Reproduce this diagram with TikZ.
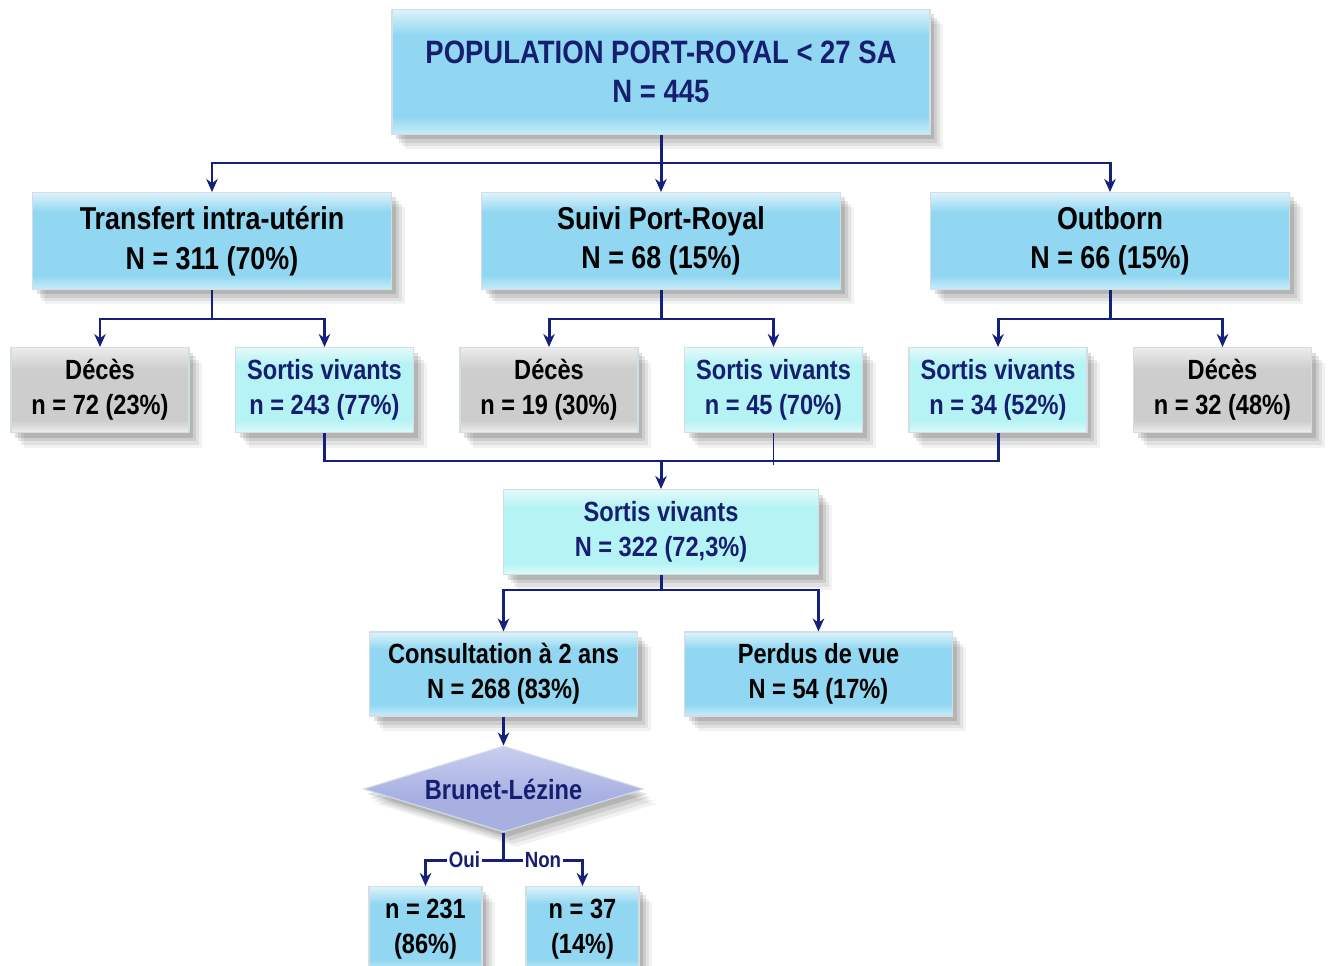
\documentclass[tikz,border=0pt]{standalone}
\usepackage{fontspec}
\setmainfont{Liberation Sans}[FakeStretch=0.85]
\usepackage{tikz}
\usetikzlibrary{arrows,arrows.meta,shapes,positioning}
\usetikzlibrary{calc,shadows}
\definecolor{linkblue}{RGB}{20,32,122}
\definecolor{textnavy}{RGB}{22,30,112}
\definecolor{boxrim}{RGB}{210,222,228}
\definecolor{bluetop}{RGB}{222,243,251}
\definecolor{bluemid}{RGB}{146,215,241}
\definecolor{blueend}{RGB}{200,238,250}
\definecolor{cyantop}{RGB}{228,250,251}
\definecolor{cyanmid}{RGB}{182,243,245}
\definecolor{cyanend}{RGB}{222,251,251}
\definecolor{greytop}{RGB}{236,236,236}
\definecolor{greymid}{RGB}{205,205,205}
\definecolor{greyend}{RGB}{238,238,238}
\definecolor{lavtop}{RGB}{200,205,240}
\definecolor{lavmid}{RGB}{168,176,226}
\pgfdeclareverticalshading{blueshade}{100bp}{color(0bp)=(blueend); color(25bp)=(blueend); color(32bp)=(bluemid); color(65bp)=(bluemid); color(75bp)=(bluetop); color(100bp)=(bluetop)}
\pgfdeclareverticalshading{cyanshade}{100bp}{color(0bp)=(cyanend); color(25bp)=(cyanend); color(32bp)=(cyanmid); color(65bp)=(cyanmid); color(75bp)=(cyantop); color(100bp)=(cyantop)}
\pgfdeclareverticalshading{greyshade}{100bp}{color(0bp)=(greyend); color(25bp)=(greyend); color(32bp)=(greymid); color(62bp)=(greymid); color(75bp)=(greytop); color(100bp)=(greytop)}
\pgfdeclareverticalshading{lavshade}{100bp}{color(0bp)=(lavmid); color(45bp)=(lavmid); color(75bp)=(lavtop); color(100bp)=(lavtop)}
\tikzstyle{softshade} = [drop shadow={shadow xshift=0.26cm, shadow yshift=-0.3cm, opacity=0.05, fill=black},
                         drop shadow={shadow xshift=0.2cm, shadow yshift=-0.24cm, opacity=0.07, fill=black},
                         drop shadow={shadow xshift=0.14cm, shadow yshift=-0.17cm, opacity=0.09, fill=black},
                         drop shadow={shadow xshift=0.08cm, shadow yshift=-0.1cm, opacity=0.12, fill=black}]
\tikzstyle{anybox}   = [rectangle, text centered, align=center, draw=boxrim, line width=0.6pt, font=\bfseries, softshade]
\tikzstyle{topbox}   = [anybox, shading=blueshade, text=textnavy, minimum width=10.76cm, minimum height=2.5cm, font=\bfseries\fontsize{18.4}{22.5}\selectfont]
\tikzstyle{midbox}   = [anybox, shading=blueshade, text=black, minimum width=7.18cm, minimum height=1.94cm, font=\bfseries\fontsize{18}{22.5}\selectfont]
\tikzstyle{greybox}  = [anybox, shading=greyshade, text=black, minimum width=3.56cm, minimum height=1.7cm, font=\bfseries\fontsize{15.8}{19.8}\selectfont]
\tikzstyle{cyanbox}  = [anybox, shading=cyanshade, text=textnavy, minimum width=3.56cm, minimum height=1.7cm, font=\bfseries\fontsize{15.8}{19.8}\selectfont]
\tikzstyle{lowbox}   = [anybox, shading=blueshade, text=black, minimum width=5.36cm, minimum height=1.68cm, font=\bfseries\fontsize{15.8}{19.8}\selectfont]
\tikzstyle{smallbox} = [anybox, shading=blueshade, text=black, minimum width=2.26cm, minimum height=1.7cm, font=\bfseries\fontsize{15.8}{20}\selectfont]
\tikzstyle{choice}   = [diamond, draw=boxrim, line width=0.6pt, shading=lavshade, text=textnavy, inner sep=0pt, aspect=3.25,
                        minimum width=5.6cm, minimum height=1.72cm, font=\bfseries\fontsize{15.8}{19.8}\selectfont, softshade]
\tikzstyle{branch}   = [fill=white, text=textnavy, inner sep=1pt, font=\bfseries\fontsize{12.5}{14}\selectfont]
\tikzstyle{link}     = [line width=1.7pt, draw=linkblue]
\tikzstyle{arrow}    = [link, ->, >={Stealth[length=2.6mm, width=2.3mm]}]

\begin{document}
\begin{tikzpicture}[node distance=4.49cm]
    \useasboundingbox (0,0) rectangle (26.56,-19.32);
    %Create top nodes
    \node (population) [topbox] at (13.22,-1.44) {POPULATION PORT-ROYAL < 27 SA\\N = 445};
    \node (suivi)      [midbox, below of = population, yshift=1.11cm] {Suivi Port-Royal\\N = 68 (15\%)};
    \node (transfert)  [midbox, left of = suivi, xshift=-4.49cm]     {Transfert intra-utérin\\N = 311 (70\%)};
    \node (outborn)    [midbox, right of = suivi, xshift=4.49cm]     {Outborn\\N = 66 (15\%)};
    %Create outcome nodes
    \node (deces_1)  [greybox, below of = transfert, xshift=-2.24cm, yshift=1.51cm] {Décès\\n = 72 (23\%)};
    \node (sortis_1) [cyanbox, right of = deces_1]  {Sortis vivants\\n = 243 (77\%)};
    \node (deces_2)  [greybox, right of = sortis_1] {Décès\\n = 19 (30\%)};
    \node (sortis_2) [cyanbox, right of = deces_2]  {Sortis vivants\\n = 45 (70\%)};
    \node (sortis_3) [cyanbox, right of = sortis_2] {Sortis vivants\\n = 34 (52\%)};
    \node (deces_3)  [greybox, right of = sortis_3] {Décès\\n = 32 (48\%)};
    %Create follow-up nodes
    \node (vivants) [cyanbox, minimum width=6.3cm, below of = suivi, yshift=-1.33cm] {Sortis vivants\\N = 322 (72,3\%)};
    \node (consult) [lowbox, below of = vivants, xshift=-3.15cm, yshift=1.65cm] {Consultation à 2 ans\\N = 268 (83\%)};
    \node (perdus)  [lowbox, below of = vivants, xshift=3.15cm,  yshift=1.65cm] {Perdus de vue\\N = 54 (17\%)};
    \node (brunet)  [choice, below of = consult, yshift=2.19cm] {Brunet-Lézine};
    \node (oui_n)   [smallbox, below of = brunet, xshift=-1.56cm, yshift=1.69cm] {n = 231\\(86\%)};
    \node (non_n)   [smallbox, below of = brunet, xshift=1.58cm,  yshift=1.69cm] {n = 37\\(14\%)};
    %Junction points
    \coordinate[below of=population, yshift=2.67cm] (split_1);
    \coordinate[below of=transfert,  yshift=2.93cm] (split_2);
    \coordinate[below of=suivi,      yshift=2.93cm] (split_3);
    \coordinate[below of=outborn,    yshift=2.93cm] (split_4);
    \coordinate[above of=vivants,    yshift=-3.07cm] (merge_1);
    \coordinate[below of=vivants,    yshift=3.33cm] (split_5);
    \coordinate[below of=brunet,     yshift=3.07cm] (split_6);
    %Connect top levels
    \draw [link]  (population.south) -- (split_1);
    \draw [arrow] (split_1) -| (transfert.north);
    \draw [arrow] (split_1) -- (suivi.north);
    \draw [arrow] (split_1) -| (outborn.north);
    \draw [link]  (transfert.south) -- (split_2);
    \draw [arrow] (split_2) -| (deces_1.north);
    \draw [arrow] (split_2) -| (sortis_1.north);
    \draw [link]  (suivi.south) -- (split_3);
    \draw [arrow] (split_3) -| (deces_2.north);
    \draw [arrow] (split_3) -| (sortis_2.north);
    \draw [link]  (outborn.south) -- (split_4);
    \draw [arrow] (split_4) -| (sortis_3.north);
    \draw [arrow] (split_4) -| (deces_3.north);
    %Merge survivors
    \draw [link]  (sortis_1.south) |- (merge_1);
    \draw [link]  (sortis_3.south) |- (merge_1);
    \draw [link, line width=0.6pt] (sortis_2.south) -- ++(0,-0.64);
    \draw [arrow] (merge_1) -- (vivants.north);
    %Connect follow-up
    \draw [link]  (vivants.south) -- (split_5);
    \draw [arrow] (split_5) -| (consult.north);
    \draw [arrow] (split_5) -| (perdus.north);
    \draw [arrow] (consult.south) -- (brunet.north);
    \draw [link]  (brunet.south) -- (split_6);
    \draw [arrow] (split_6) -| node[branch, pos=0.25] {Oui} (oui_n.north);
    \draw [arrow] (split_6) -| node[branch, pos=0.25] {Non} (non_n.north);
\end{tikzpicture}
\end{document}
